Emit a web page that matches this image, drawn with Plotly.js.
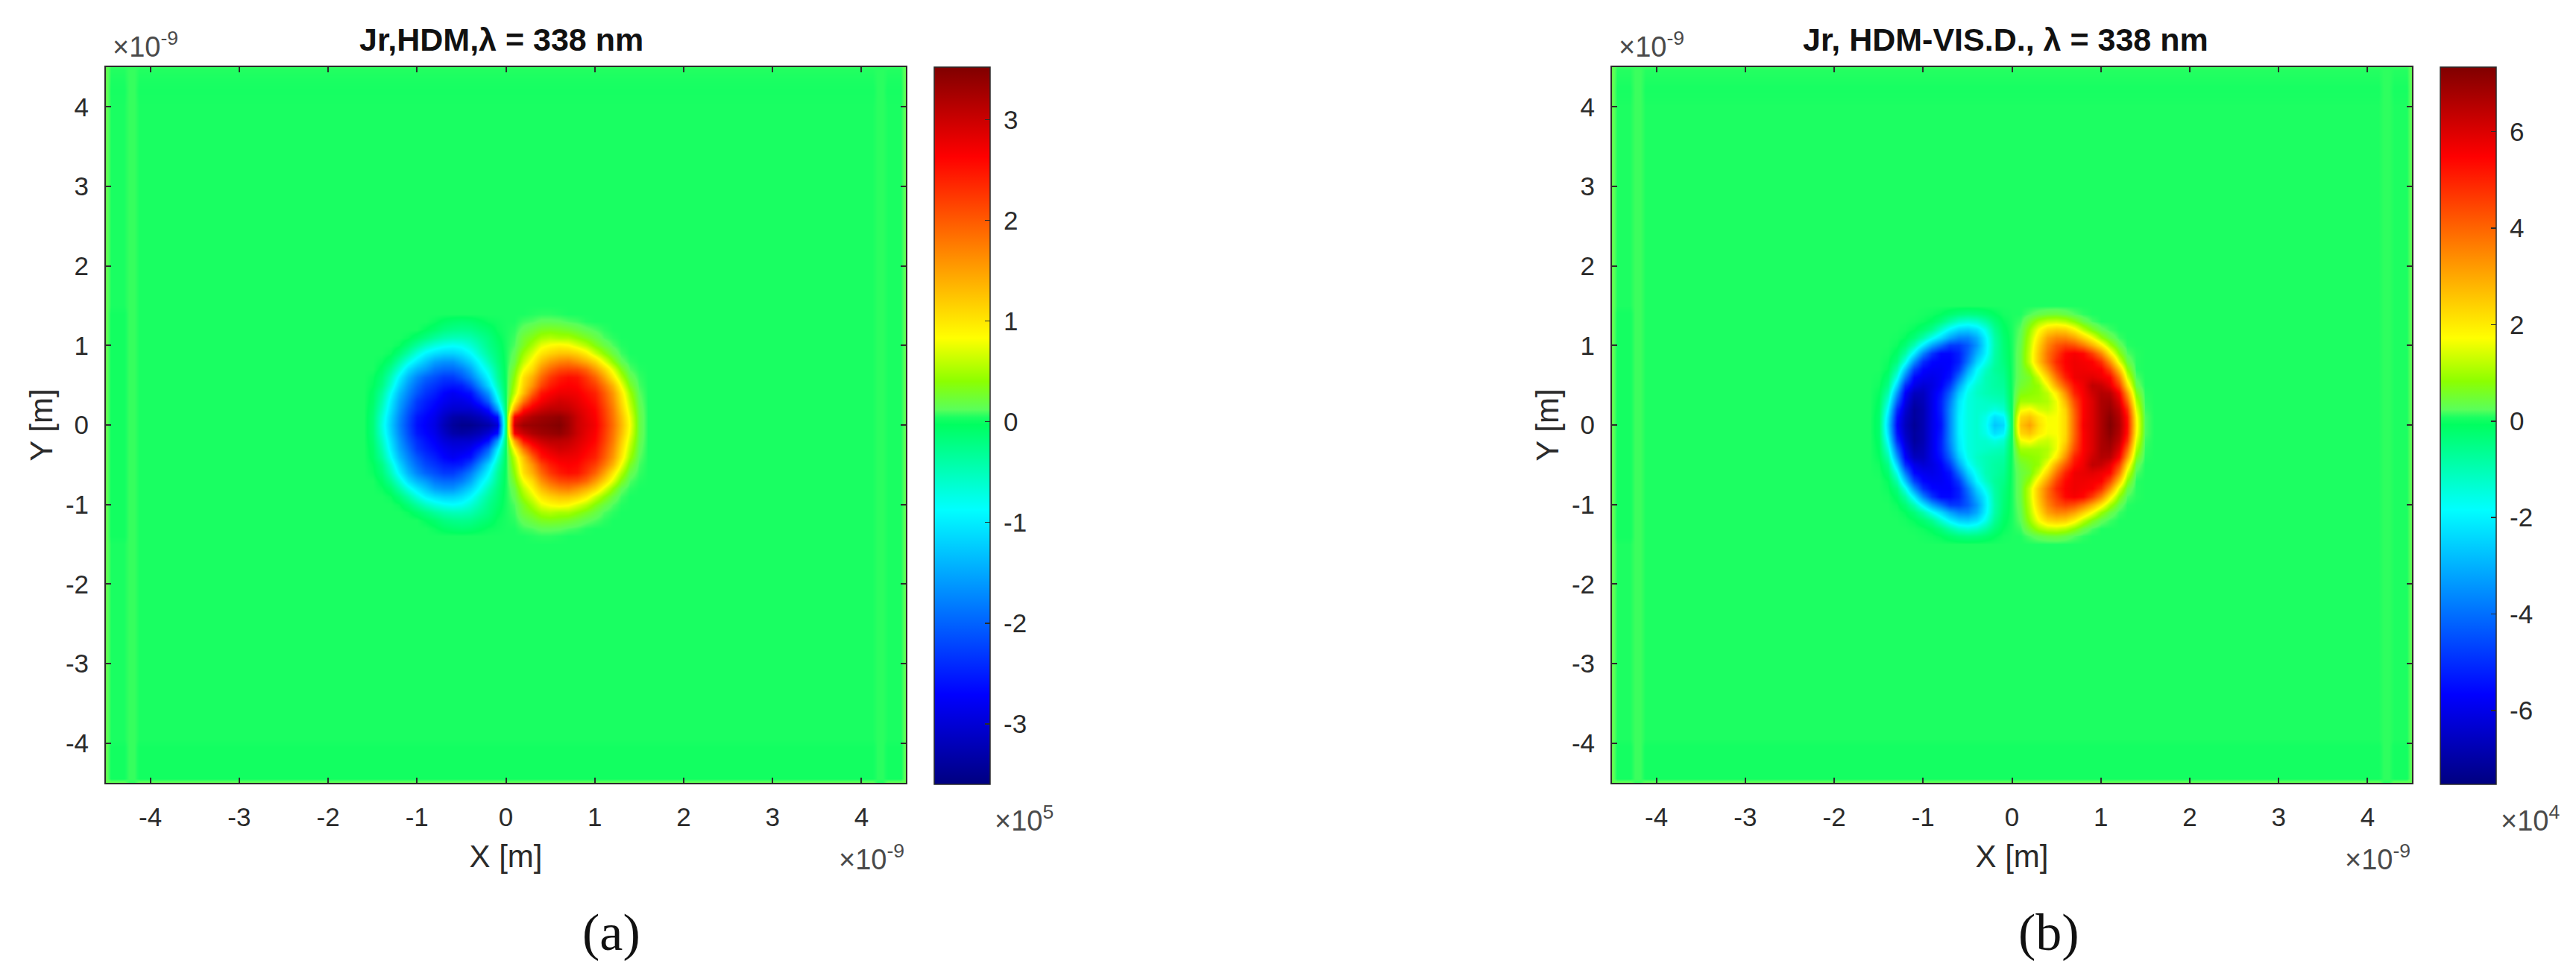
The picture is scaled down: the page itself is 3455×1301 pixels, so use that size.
<!DOCTYPE html>
<html><head><meta charset="utf-8">
<script src="https://cdn.plot.ly/plotly-3.0.1.min.js"></script>
<style>html,body{margin:0;padding:0;background:#fff}</style></head>
<body><div id="chart" style="width:3455px;height:1301px"></div>
<script>
// Grid (units of 1e-9 m)
const xEdgeLeft = [-4.5,-4.44,-4.3,-4.24,-4.18,-4.12,-2.0,-1.7];
const xEdgeRight = [1.7,2.0,4.12,4.18,4.24,4.3,4.44,4.5];
const xRightInner = [0.1,0.2,0.3,0.4,0.5,0.6,0.7,0.8,0.9,1.0,1.1,1.2,1.3,1.4,1.5,1.6];
const yUpperInner = [0,0.1,0.2,0.3,0.4,0.5,0.6,0.7,0.8,0.9,1.0,1.1,1.2,1.3,1.4];
const yEdgeBottom = [-4.5,-4.44,-4.05,-3.95,-2.0,-1.6,-1.5];
const yEdgeTop = [1.5,1.6,2.0,4.0,4.2,4.46,4.5];

// Panel (a), units 1e5: rows are y = 0 ... 1.4; columns are |x| = 0.1 ... 1.6
const aRight = [
[3.0,3.3,3.35,3.4,3.45,3.5,3.3,3.0,2.85,2.7,2.3,1.85,1.35,.8,.2,.04],
[2.7,3.0,3.2,3.3,3.35,3.4,3.25,3.0,2.8,2.65,2.25,1.8,1.3,.75,.2,.04],
[1.5,2.5,2.8,3.0,3.1,3.1,3.05,2.9,2.75,2.6,2.2,1.75,1.2,.65,.18,.04],
[.9,1.8,2.4,2.7,2.85,2.95,2.9,2.8,2.65,2.5,2.1,1.65,1.1,.55,.15,.04],
[.6,1.3,1.95,2.5,2.65,2.75,2.75,2.7,2.55,2.4,2.0,1.55,1.0,.45,.12,.04],
[.5,1.15,1.6,2.15,2.45,2.6,2.65,2.6,2.4,2.2,1.8,1.35,.8,.3,.09,.04],
[.4,1.05,1.4,1.9,2.25,2.45,2.55,2.5,2.25,1.95,1.5,1.0,.55,.18,.07,.04],
[.3,.8,1.1,1.6,1.9,2.1,2.15,2.1,1.9,1.55,1.15,.72,.33,.1,.05,.04],
[.2,.6,.9,1.3,1.55,1.7,1.75,1.6,1.4,1.15,.75,.4,.15,.06,.04,.04],
[.15,.45,.7,1.0,1.15,1.25,1.25,1.15,.95,.65,.4,.2,.08,.04,.04,.04],
[.1,.3,.5,.75,.85,.9,.85,.7,.55,.35,.2,.1,.05,.04,.04,.04],
[.08,.25,.35,.5,.55,.5,.5,.4,.3,.2,.1,.06,.04,.04,.04,.04],
[.06,.15,.22,.3,.32,.3,.26,.2,.14,.1,.06,.04,.04,.04,.04,.04],
[.04,.08,.1,.14,.14,.13,.1,.08,.05,.04,.04,.04,.04,.04,.04,.04],
[.04,.04,.05,.06,.06,.05,.04,.04,.04,.04,.04,.04,.04,.04,.04,.04]];
const aLeft = [
[-3.0,-3.3,-3.4,-3.5,-3.5,-3.4,-3.2,-2.9,-2.75,-2.6,-2.2,-1.75,-1.25,-.7,-.15,.04],
[-2.6,-3.0,-3.2,-3.3,-3.35,-3.3,-3.1,-2.85,-2.7,-2.55,-2.15,-1.7,-1.2,-.65,-.15,.04],
[-1.6,-2.6,-2.9,-3.05,-3.05,-3.05,-2.95,-2.75,-2.6,-2.4,-2.05,-1.6,-1.1,-.55,-.12,.04],
[-1.0,-2.0,-2.5,-2.8,-2.9,-2.9,-2.8,-2.65,-2.5,-2.3,-1.9,-1.5,-1.0,-.45,-.08,.04],
[-.7,-1.6,-2.1,-2.6,-2.7,-2.8,-2.7,-2.5,-2.35,-2.1,-1.75,-1.35,-.85,-.35,-.06,.04],
[-.5,-1.15,-1.7,-2.2,-2.5,-2.55,-2.5,-2.35,-2.2,-1.95,-1.6,-1.15,-.65,-.22,-.02,.04],
[-.35,-.9,-1.35,-1.8,-2.1,-2.3,-2.3,-2.15,-2.0,-1.75,-1.4,-.95,-.5,-.15,0,.04],
[-.28,-.7,-1.05,-1.5,-1.8,-1.95,-1.95,-1.85,-1.6,-1.4,-1.1,-.65,-.3,-.06,.04,.04],
[-.2,-.5,-.85,-1.2,-1.45,-1.65,-1.65,-1.55,-1.3,-1.05,-.75,-.4,-.12,0,.04,.04],
[-.15,-.35,-.6,-.9,-1.1,-1.2,-1.2,-1.1,-.95,-.7,-.4,-.15,0,.04,.04,.04],
[-.1,-.25,-.45,-.65,-.8,-.85,-.8,-.7,-.55,-.35,-.15,0,.04,.04,.04,.04],
[-.05,-.2,-.32,-.45,-.5,-.5,-.45,-.35,-.22,-.1,0,.04,.04,.04,.04,.04],
[0,-.1,-.17,-.25,-.27,-.25,-.2,-.1,-.03,.04,.04,.04,.04,.04,.04,.04],
[.02,0,-.05,-.1,-.12,-.1,-.06,0,.04,.04,.04,.04,.04,.04,.04,.04],
[.04,.04,.04,.04,.04,.04,.04,.04,.04,.04,.04,.04,.04,.04,.04,.04]];
const aCentre = 0.04;
const aEdgeLeft = [.16,.02,.02,.075,.075,.04,.04,.04];
const aEdgeRight = [.04,.04,.04,.06,.06,.04,.04,.16];
const aBottomLevels = [.16,.02,.02,.04,.04,.04,.04];
const aTopLevels = [.04,.04,.04,.04,.03,.05,.07];

// Panel (b), units 1e4
const bRight = [
[2.6,3.1,2.2,1.7,1.7,2.3,4.0,5.6,6.0,6.7,7.3,6.7,5.3,1.9,.2,.08],
[2.3,2.6,2.0,1.65,1.7,2.3,4.0,5.5,6.0,6.7,7.2,6.6,5.2,1.8,.2,.08],
[1.6,1.8,1.4,1.3,1.6,2.4,4.1,5.5,6.0,6.7,7.0,6.4,4.8,1.5,.15,.08],
[1.0,1.0,1.0,1.1,1.6,2.8,4.4,5.5,6.0,6.7,6.8,6.0,4.0,1.1,.12,.08],
[.7,.8,.9,1.2,2.0,3.4,5.0,5.6,6.2,6.6,6.5,5.5,3.2,.7,.1,.08],
[.5,.7,.9,1.7,3.0,4.2,5.3,5.7,6.4,6.3,5.8,4.6,2.2,.35,.08,.08],
[.4,.6,1.3,2.4,3.8,5.0,5.7,5.8,5.9,5.7,5.4,3.7,1.4,.2,.08,.08],
[.4,.9,2.0,3.2,4.5,5.4,5.7,5.7,5.6,5.5,4.4,2.6,.8,.1,.08,.08],
[.4,1.3,2.6,3.8,4.9,5.5,5.7,5.6,5.5,4.8,3.3,1.5,.4,.1,.08,.08],
[.4,1.3,2.6,3.8,4.6,5.4,5.6,5.4,4.6,3.5,2.0,.8,.2,.1,.08,.08],
[.35,1.2,2.4,3.5,4.2,4.5,4.3,3.7,2.9,2.0,1.0,.35,.1,.08,.08,.08],
[.3,1.1,2.1,3.1,3.5,3.5,3.1,2.4,1.7,.9,.4,.15,.08,.08,.08,.08],
[.25,.9,1.7,2.3,2.5,2.4,1.9,1.2,.65,.3,.15,.08,.08,.08,.08,.08],
[.15,.55,1.0,1.25,1.3,1.15,.8,.4,.18,.08,.08,.08,.08,.08,.08,.08],
[.08,.2,.33,.42,.45,.36,.22,.12,.08,.08,.08,.08,.08,.08,.08,.08]];
const bLeft = [
[-2.4,-2.7,-1.7,-1.3,-1.5,-2.0,-3.6,-5.4,-6.0,-6.8,-7.2,-6.6,-5.6,-2.5,-.2,.08],
[-2.0,-2.3,-1.6,-1.3,-1.5,-2.0,-3.6,-5.3,-6.0,-6.8,-7.1,-6.5,-5.4,-2.3,-.2,.08],
[-1.3,-1.5,-1.3,-1.3,-1.5,-2.1,-3.6,-5.2,-6.0,-6.8,-7.1,-6.3,-5.0,-1.9,-.15,.08],
[-1.0,-1.1,-1.2,-1.3,-1.5,-2.2,-3.8,-5.2,-6.0,-6.7,-6.9,-6.0,-4.2,-1.4,-.1,.08],
[-.8,-.9,-1.0,-1.2,-1.6,-2.6,-4.2,-5.4,-6.0,-6.6,-6.6,-5.7,-3.4,-.9,-.05,.08],
[-.7,-.8,-1.0,-1.3,-1.9,-3.2,-4.8,-5.7,-6.1,-6.3,-6.0,-5.0,-2.5,-.5,.02,.08],
[-.6,-.8,-1.0,-1.6,-2.5,-4.0,-5.4,-5.8,-6.0,-5.9,-5.6,-3.8,-1.6,-.25,.06,.08],
[-.5,-.7,-1.2,-1.9,-3.2,-4.8,-5.6,-5.8,-5.8,-5.6,-4.7,-2.7,-.9,-.05,.08,.08],
[-.4,-.8,-1.6,-2.5,-3.9,-5.2,-5.7,-5.7,-5.6,-5.0,-3.5,-1.6,-.4,0,.08,.08],
[-.35,-.85,-2.0,-3.0,-4.2,-5.2,-5.6,-5.6,-4.9,-3.7,-2.1,-.8,-.15,.06,.08,.08],
[-.3,-.9,-2.1,-3.4,-4.3,-4.8,-4.8,-4.0,-3.2,-2.1,-1.0,-.3,0,.08,.08,.08],
[-.25,-.85,-2.0,-3.1,-3.7,-3.7,-3.2,-2.4,-1.7,-.9,-.35,-.05,.06,.08,.08,.08],
[-.15,-.65,-1.6,-2.3,-2.6,-2.5,-2.0,-1.3,-.6,-.25,-.05,.05,.08,.08,.08,.08],
[-.05,-.35,-.85,-1.25,-1.4,-1.25,-.85,-.4,-.12,0,.06,.08,.08,.08,.08,.08],
[.05,-.08,-.25,-.4,-.45,-.38,-.22,-.06,.02,.06,.08,.08,.08,.08,.08,.08]];
const bCentre = 0.08;
const bEdgeLeft = [.33,.04,.04,.16,.16,.08,.08,.08];
const bEdgeRight = [.08,.08,.08,.125,.125,.08,.08,.33];
const bBottomLevels = [.33,.04,.04,.08,.08,.08,.08];
const bTopLevels = [.08,.08,.08,.08,.06,.1,.15];

const axisTicks = [-4,-3,-2,-1,0,1,2,3,4];
const axisTickText = ['-4','-3','-2','-1','0','1','2','3','4'];
const aBarTicks = [-3,-2,-1,0,1,2,3];
const bBarTicks = [-6,-4,-2,0,2,4,6];

const jetGreen = [
[0,'rgb(0,0,128)'],[.125,'rgb(0,0,255)'],[.383,'rgb(0,255,255)'],
[.5014,'rgb(0,255,96)'],[.5112,'rgb(25,255,98)'],[.5225,'rgb(90,255,90)'],
[.5618,'rgb(140,255,0)'],[.6222,'rgb(255,255,0)'],[.875,'rgb(255,0,0)'],[1,'rgb(128,0,0)']];

const darkText = '#2b2b2b', W = 3455, H = 1301;
const xRightPart = xRightInner, xLeftPart = xRightInner.map(v=>-v).reverse();
const xAll = [...xEdgeLeft, ...xLeftPart, 0, ...xRightPart, ...xEdgeRight];
const yLower = yUpperInner.slice(1).map(v=>-v).reverse();
const yAll = [...yEdgeBottom, ...yLower, ...yUpperInner, ...yEdgeTop];

function buildField(right, left, centre, edgeL, edgeR, bottom, top) {
  const row = i => [...edgeL, ...left[i].slice().reverse(), centre, ...right[i], ...edgeR];
  const upper = right.map((_, i) => row(i));
  const lower = upper.slice(1).reverse();
  const outer = lvl => {
    const mid = xAll.slice(edgeL.length, xAll.length - edgeR.length).map(() => lvl);
    const l = edgeL.map((v,i) => (i === 0 || i === 3 || i === 4) ? v : lvl);
    const r = edgeR.map((v,i) => (i === 7 || i === 3 || i === 4) ? v : lvl);
    return [...l, ...mid, ...r];
  };
  return [...bottom.map(outer), ...lower, ...upper, ...top.map(outer)];
}
const zA = buildField(aRight, aLeft, aCentre, aEdgeLeft, aEdgeRight, aBottomLevels, aTopLevels);
const zB = buildField(bRight, bLeft, bCentre, bEdgeLeft, bEdgeRight, bBottomLevels, bTopLevels);

const pad = '\u00a0';
function cbar(left, ticks) {
  return {x:left/W, xanchor:'left', xpad:0, y:(H-1052)/H, yanchor:'bottom', ypad:0,
    len:962/H, lenmode:'fraction', thickness:75, thicknessmode:'pixels',
    outlinecolor:darkText, outlinewidth:1.5, tickmode:'array', tickvals:ticks,
    ticktext:ticks.map(v=>pad+String(v)), ticks:'inside', ticklen:7, tickwidth:1.5, tickcolor:darkText,
    tickfont:{family:'Liberation Sans', size:35, color:darkText}};
}
const traces = [
 {type:'heatmap', x:xAll, y:yAll, z:zA, zmin:-3.6, zmax:3.52, zsmooth:'best', colorscale:jetGreen, colorbar:cbar(1253,aBarTicks), xaxis:'x', yaxis:'y'},
 {type:'heatmap', x:xAll, y:yAll, z:zB, zmin:-7.53, zmax:7.34, zsmooth:'best', colorscale:jetGreen, colorbar:cbar(3273,bBarTicks), xaxis:'x2', yaxis:'y2'}
];
function axis(domain, titleText, anchor, standoff) {
  return {domain:domain, range:[-4.5,4.5], anchor:anchor, tickmode:'array', tickvals:axisTicks, ticktext:axisTickText,
    ticks:'inside', ticklen:7, tickwidth:2, tickcolor:darkText, showline:true, linecolor:darkText, linewidth:2, mirror:'allticks',
    zeroline:false, showgrid:false, ticklabelstandoff:14, tickfont:{family:'Liberation Sans', size:35, color:darkText},
    title:{text:titleText, standoff:standoff, font:{family:'Liberation Sans', size:42, color:darkText}}};
}
const yDom = [(H-1050)/H, (H-90)/H];
const note = (x,y,text,size,extra) => Object.assign({xref:'paper', yref:'paper', x:x/W, y:1-y/H, text:text, showarrow:false,
  xanchor:'center', yanchor:'middle', font:{family:'Liberation Sans', size:size, color:darkText}}, extra||{});
const lightFont = {family:'Liberation Sans', size:38, color:'#4a4a4a'};
const serif = {font:{family:'Liberation Serif', size:70, color:'#111'}};
const bold = {font:{family:'Liberation Sans', size:43, color:'#111'}};
const layout = {
  width:W, height:H, margin:{l:0,r:0,t:0,b:0}, paper_bgcolor:'#fff', plot_bgcolor:'#fff', showlegend:false,
  xaxis:axis([142/W,1215/W],'X [m]','y',20), yaxis:axis(yDom,'Y [m]','x',4),
  xaxis2:axis([2162/W,3235/W],'X [m]','y2',20), yaxis2:axis(yDom,'Y [m]','x2',4),
  annotations:[
    note(672,53,'<b>Jr,HDM,\u03bb = 338 nm</b>',43,bold),
    note(2690,53,'<b>Jr, HDM-VIS.D., \u03bb = 338 nm</b>',43,bold),
    note(195,60,'\u00d710<sup>-9</sup>',38,{font:lightFont}),
    note(2215,60,'\u00d710<sup>-9</sup>',38,{font:lightFont}),
    note(1169,1150,'\u00d710<sup>-9</sup>',38,{font:lightFont}),
    note(3189,1150,'\u00d710<sup>-9</sup>',38,{font:lightFont}),
    note(1373,1098,'\u00d710<sup>5</sup>',38,{font:lightFont}),
    note(3393,1098,'\u00d710<sup>4</sup>',38,{font:lightFont}),
    note(820,1250,'(a)',70,serif),
    note(2748,1250,'(b)',70,serif)
  ]
};
Plotly.newPlot('chart', traces, layout, {staticPlot:true, displayModeBar:false});
</script></body></html>
